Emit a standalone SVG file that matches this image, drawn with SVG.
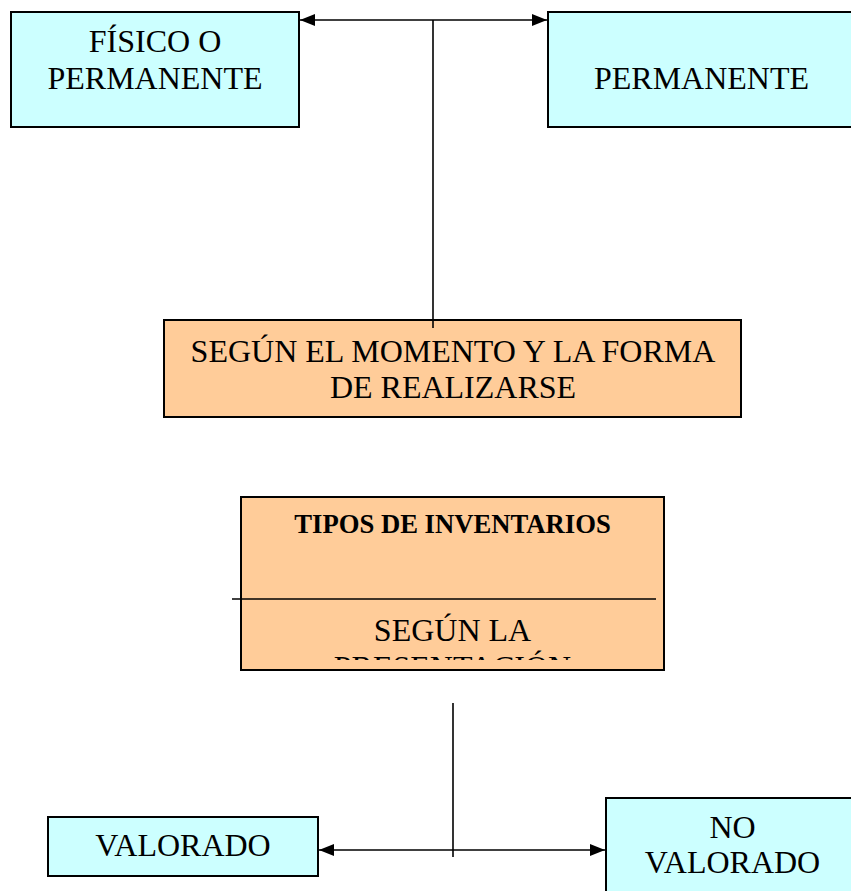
<svg xmlns="http://www.w3.org/2000/svg" width="851" height="891" viewBox="0 0 851 891">
  <style>
    .cyan { fill: #CCFFFF; stroke: #000; stroke-width: 2; }
    .orange { fill: #FFCC99; stroke: #000; stroke-width: 2; }
    .t { font-family: "Liberation Serif", "Times New Roman", serif; font-size: 32px; fill: #000; text-anchor: middle; }
    .tb { font-family: "Liberation Serif", "Times New Roman", serif; font-size: 26.67px; font-weight: bold; fill: #000; text-anchor: middle; }
    .conn { stroke: #000; stroke-width: 1.6; fill: none; }
  </style>
  <defs>
    <marker id="arrow" markerUnits="userSpaceOnUse" markerWidth="15" markerHeight="12" refX="15" refY="6" orient="auto-start-reverse">
      <path d="M0,0 L15,6 L0,12 z" fill="#000"/>
    </marker>
    <clipPath id="clipPres">
      <rect x="241" y="600" width="423" height="60"/>
    </clipPath>
  </defs>
  <rect width="851" height="891" fill="#fff"/>

  <g id="fisico">
    <rect class="cyan" x="11" y="12" width="288" height="115"/>
    <text class="t" x="155" y="52">FÍSICO O</text>
    <text class="t" x="155" y="89">PERMANENTE</text>
  </g>

  <g id="permanente">
    <rect class="cyan" x="548" y="12" width="310" height="115"/>
    <text class="t" x="701.5" y="89">PERMANENTE</text>
  </g>

  <g id="momento">
    <rect class="orange" x="164" y="320" width="577" height="97"/>
    <text class="t" x="453" y="362">SEGÚN EL MOMENTO Y LA FORMA</text>
    <text class="t" x="453" y="398">DE REALIZARSE</text>
  </g>

  <g id="tipos">
    <rect class="orange" x="241" y="497" width="423" height="173"/>
    <text class="tb" x="452.5" y="533">TIPOS DE INVENTARIOS</text>
    <text class="t" x="452.5" y="641">SEGÚN LA</text>
    <text class="t" x="452.5" y="678" clip-path="url(#clipPres)">PRESENTACIÓN</text>
  </g>

  <g id="valorado">
    <rect class="cyan" x="48" y="817" width="270" height="59"/>
    <text class="t" x="183" y="856">VALORADO</text>
  </g>

  <g id="novalorado">
    <rect class="cyan" x="606" y="798" width="254" height="100"/>
    <text class="t" x="732.5" y="838">NO</text>
    <text class="t" x="732.5" y="873">VALORADO</text>
  </g>

  <g id="connectors">
    <line class="conn" x1="300" y1="20" x2="547" y2="20" marker-start="url(#arrow)" marker-end="url(#arrow)"/>
    <line class="conn" x1="433" y1="20" x2="433" y2="328"/>
    <line class="conn" x1="232" y1="599" x2="656" y2="599"/>
    <line class="conn" x1="453" y1="703" x2="453" y2="857"/>
    <line class="conn" x1="319" y1="850" x2="605" y2="850" marker-start="url(#arrow)" marker-end="url(#arrow)"/>
  </g>
</svg>
